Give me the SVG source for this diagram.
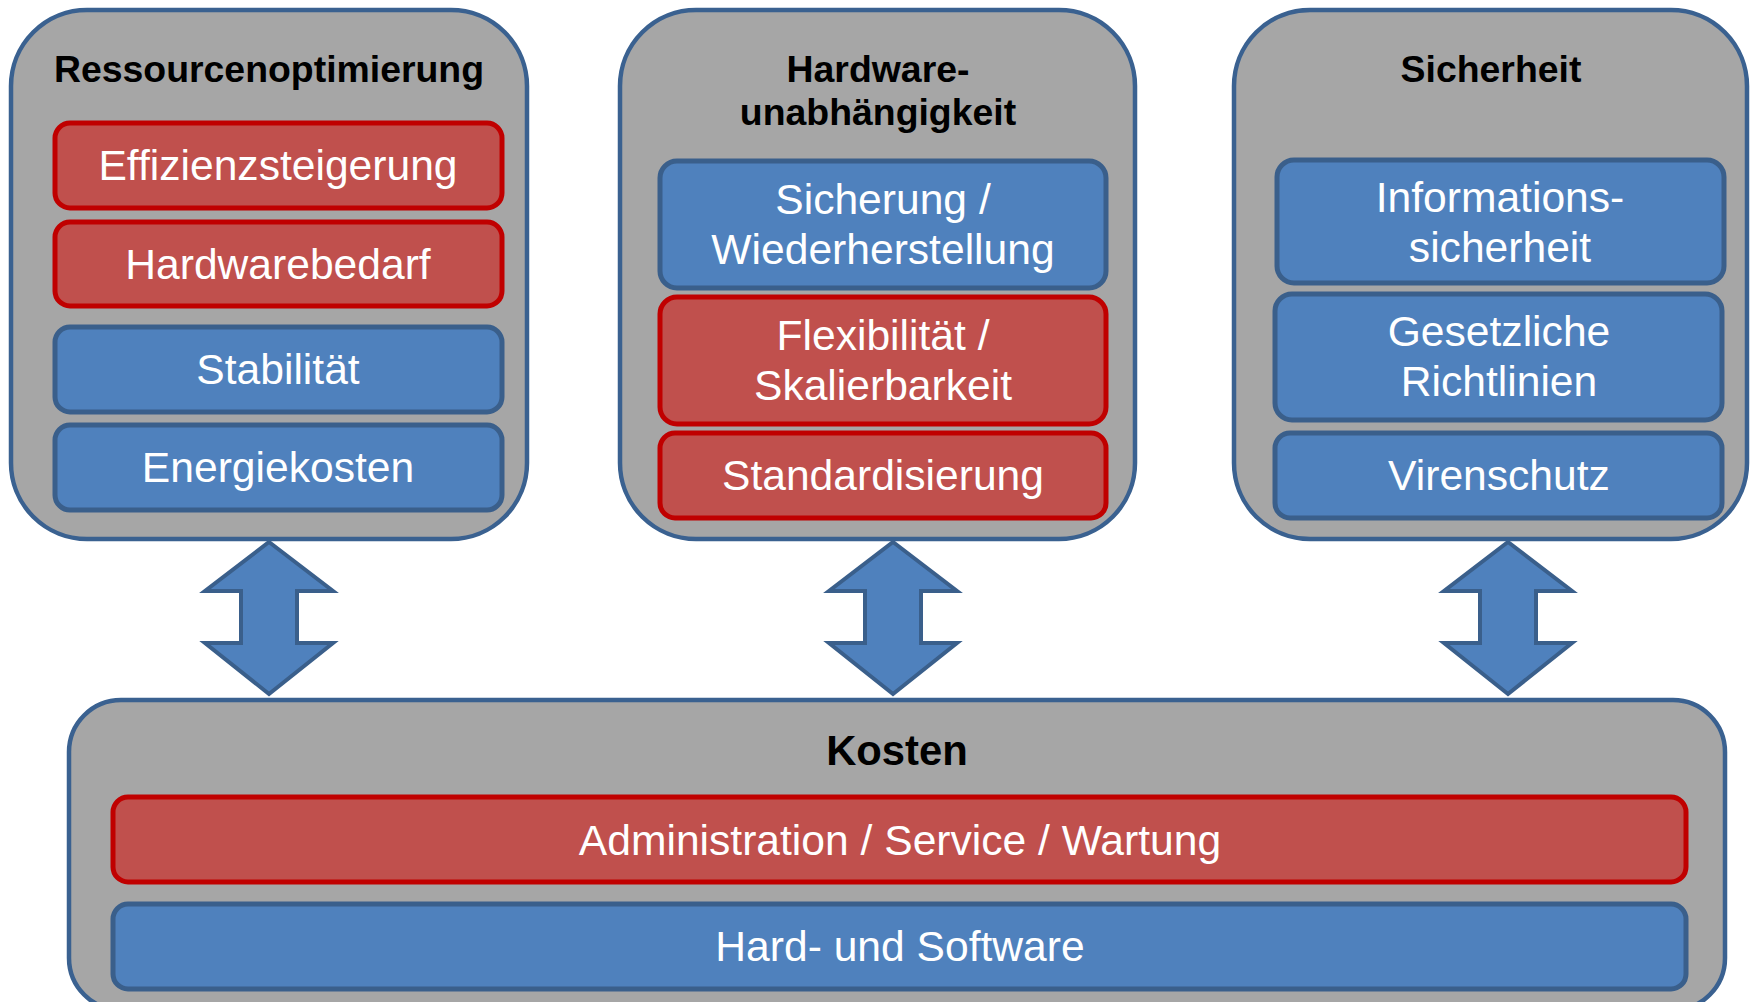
<svg xmlns="http://www.w3.org/2000/svg" width="1750" height="1002" viewBox="0 0 1750 1002">
<defs>
<style>
.outer{fill:#A6A6A6;stroke:#3A6190;stroke-width:4.5}
.blue{fill:#4F81BD;stroke:#3A5F8B;stroke-width:5}
.red{fill:#C0504D;stroke:#C00000;stroke-width:5}
.arrow{fill:#4F81BD;stroke:#3A5F8B;stroke-width:4;stroke-linejoin:miter}
.title{font-family:"Liberation Sans",Arial,sans-serif;font-weight:bold;font-size:37.4px;fill:#000;text-anchor:middle}
.label{font-family:"Liberation Sans",Arial,sans-serif;font-size:42.6px;fill:#fff;text-anchor:middle}
</style>
</defs>
<rect width="1750" height="1002" fill="#fff"/>
<g id="connectors">
<polygon class="arrow" points="269,542 333,591 297,591 297,643 333,643 269,694 205,643 241,643 241,591 205,591"/>
<polygon class="arrow" points="893,542 957,591 921,591 921,643 957,643 893,694 829,643 865,643 865,591 829,591"/>
<polygon class="arrow" points="1508,542 1572,591 1536,591 1536,643 1572,643 1508,694 1444,643 1480,643 1480,591 1444,591"/>
</g>
<g id="ressourcenoptimierung">
<rect class="outer" x="11" y="10" width="516" height="529" rx="76" ry="76"/>
<text class="title" x="269" y="82">Ressourcenoptimierung</text>
<g id="effizienzsteigerung"><rect class="red" x="55" y="123" width="447" height="85" rx="15"/><text class="label" x="278" y="180">Effizienzsteigerung</text></g>
<g id="hardwarebedarf"><rect class="red" x="55" y="222" width="447" height="84" rx="15"/><text class="label" x="278" y="279">Hardwarebedarf</text></g>
<g id="stabilitaet"><rect class="blue" x="55" y="327" width="447" height="85" rx="15"/><text class="label" x="278" y="384">Stabilität</text></g>
<g id="energiekosten"><rect class="blue" x="55" y="425" width="447" height="85" rx="15"/><text class="label" x="278" y="482">Energiekosten</text></g>
</g>
<g id="hardwareunabhaengigkeit">
<rect class="outer" x="620" y="10" width="515" height="529" rx="76" ry="76"/>
<text class="title" x="878" y="82">Hardware-</text>
<text class="title" x="878" y="125">unabhängigkeit</text>
<g id="sicherung"><rect class="blue" x="660" y="161" width="446" height="127" rx="17"/><text class="label" x="883" y="214">Sicherung /</text><text class="label" x="883" y="264">Wiederherstellung</text></g>
<g id="flexibilitaet"><rect class="red" x="660" y="297" width="446" height="127" rx="17"/><text class="label" x="883" y="350">Flexibilität /</text><text class="label" x="883" y="400">Skalierbarkeit</text></g>
<g id="standardisierung"><rect class="red" x="660" y="433" width="446" height="85" rx="15"/><text class="label" x="883" y="490">Standardisierung</text></g>
</g>
<g id="sicherheit">
<rect class="outer" x="1234" y="10" width="513" height="529" rx="76" ry="76"/>
<text class="title" x="1491" y="82">Sicherheit</text>
<g id="informationssicherheit"><rect class="blue" x="1277" y="160" width="447" height="123" rx="17"/><text class="label" x="1500" y="212">Informations-</text><text class="label" x="1500" y="262">sicherheit</text></g>
<g id="gesetzliche-richtlinien"><rect class="blue" x="1275" y="294" width="447" height="126" rx="17"/><text class="label" x="1499" y="346">Gesetzliche</text><text class="label" x="1499" y="396">Richtlinien</text></g>
<g id="virenschutz"><rect class="blue" x="1275" y="433" width="447" height="85" rx="15"/><text class="label" x="1499" y="490">Virenschutz</text></g>
</g>
<g id="kosten">
<rect class="outer" x="69" y="700" width="1656" height="310" rx="52" ry="52"/>
<text class="title" x="897" y="765" style="font-size:41.8px">Kosten</text>
<g id="administration"><rect class="red" x="113" y="797" width="1573" height="85" rx="15"/><text class="label" x="900" y="855">Administration / Service / Wartung</text></g>
<g id="hard-software"><rect class="blue" x="113" y="904" width="1573" height="85" rx="15"/><text class="label" x="900" y="961">Hard- und Software</text></g>
</g>
</svg>
